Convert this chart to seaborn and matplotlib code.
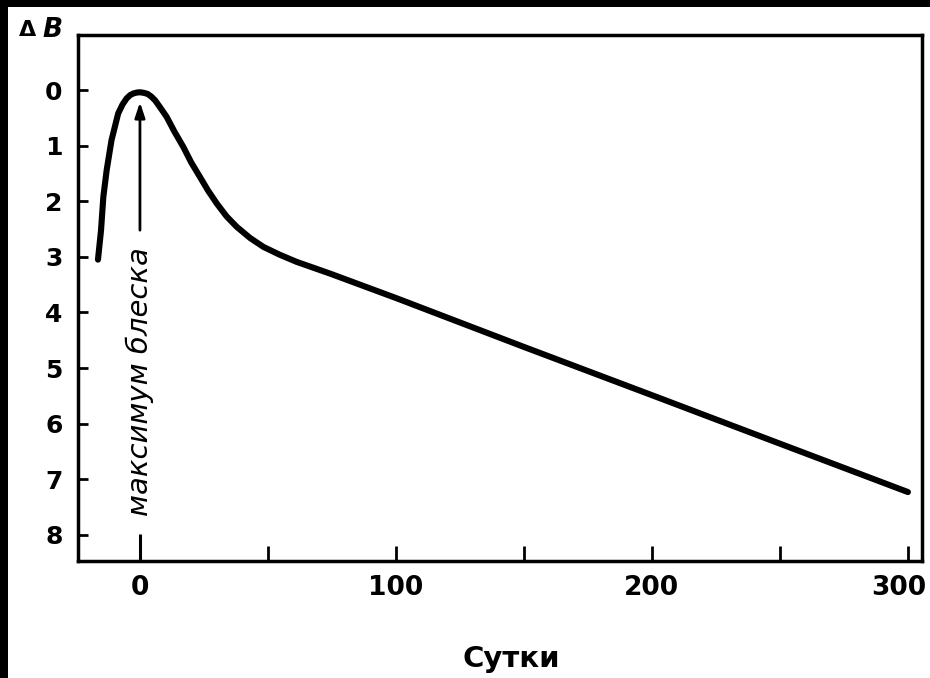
import matplotlib
matplotlib.use("Agg")
import matplotlib.pyplot as plt
from matplotlib.patches import Rectangle
from matplotlib.ticker import FixedLocator
from matplotlib.transforms import ScaledTranslation
import seaborn as sns
import pandas as pd

# ---- data ----
days = [-16.4, -15.2, -14.3, -13.0, -11.1, -8.5, -6.8, -5.2, -3.8, -2.5, -1.2, 0.0,
        1.5, 3.0, 4.5, 6.0, 8.0, 10.4, 13.5, 16.9, 20.0, 23.4, 26.5, 30.0, 33.8, 37.8,
        43.0, 48.2, 54.5, 61.2, 74.2, 100.0, 150.0, 203.0, 250.0, 300.0]
delta_b = [3.05, 2.52, 1.92, 1.44, 0.90, 0.42, 0.26, 0.15, 0.09, 0.06, 0.045, 0.04,
           0.05, 0.07, 0.12, 0.19, 0.32, 0.48, 0.75, 1.02, 1.30, 1.56, 1.80, 2.04, 2.27, 2.46,
           2.66, 2.82, 2.96, 3.09, 3.30, 3.74, 4.62, 5.54, 6.36, 7.23]
x_major = [0, 100, 200, 300]
x_major_labels = ["0", "100", "200", "300"]
x_minor = [50, 150, 250]
y_ticks = [0, 1, 2, 3, 4, 5, 6, 7, 8]
x_label = "Сутки"
annot_text = "максимум блеска"

df = pd.DataFrame({"day": days, "dB": delta_b})

sns.set_style("ticks")
plt.rcParams["font.family"] = ["DejaVu Sans"]

fig = plt.figure(figsize=(9.3, 6.78), dpi=100, facecolor="white")
ax = fig.add_axes([78 / 930, 1 - 561 / 678, (922 - 78) / 930, (561 - 35) / 678])

sns.lineplot(data=df, x="day", y="dB", ax=ax, sort=False, color="black",
             linewidth=4.4, solid_capstyle="round", solid_joinstyle="round")

ax.set_xlim(-24.2, 305.5)
ax.set_ylim(8.47, -0.99)

for s in ax.spines.values():
    s.set_visible(True)
    s.set_linewidth(2.5)
    s.set_color("black")

ax.xaxis.set_major_locator(FixedLocator(x_major))
ax.set_xticklabels(x_major_labels)
ax.xaxis.set_minor_locator(FixedLocator(x_minor))
ax.set_yticks(y_ticks)
ax.set_yticklabels([str(v) for v in y_ticks])

ax.tick_params(axis="x", which="both", direction="in", length=11, width=2.0,
               labelsize=19, pad=10, colors="black")
ax.tick_params(axis="y", which="major", direction="in", length=7, width=2.0,
               labelsize=18, pad=11, colors="black")
ax.tick_params(axis="y", which="minor", left=False)
for lbl in ax.get_xticklabels() + ax.get_yticklabels():
    lbl.set_fontweight("bold")

last = ax.get_xticklabels()[-1]
last.set_transform(last.get_transform() + ScaledTranslation(-0.09, 0, fig.dpi_scale_trans))

ax.set_xlabel(x_label, fontsize=21, color="black", fontweight="bold")
ax.xaxis.set_label_coords(0.513, -0.16)
ax.set_ylabel("")

# arrow to the maximum with rotated text
ax.plot([0, 0], [8.47, 7.98], color="black", linewidth=2.2, solid_capstyle="butt")
ax.annotate("", xy=(0, 0.22), xytext=(0, 2.52),
            arrowprops=dict(arrowstyle="-|>,head_length=0.9,head_width=0.3",
                            color="black", linewidth=2.0, shrinkA=0, shrinkB=0))
ax.text(0, 5.25, annot_text, rotation=90, ha="center", va="center",
        fontsize=21, style="italic", color="black")

fig.text(36 / 930, 1 - 30 / 678, "Δ", fontsize=16, ha="right", va="center",
         color="black", fontweight="bold")
fig.text(42 / 930, 1 - 30 / 678, "B", fontsize=19, ha="left", va="center",
         color="black", style="italic", fontweight="bold")

# black scan border at top and left
fig.patches.append(Rectangle((0, 1 - 7 / 678), 1, 7 / 678, transform=fig.transFigure,
                             facecolor="black", edgecolor="none", zorder=10))
fig.patches.append(Rectangle((0, 0), 8 / 930, 1, transform=fig.transFigure,
                             facecolor="black", edgecolor="none", zorder=10))

fig.savefig("out.png", dpi=100, facecolor="white")
